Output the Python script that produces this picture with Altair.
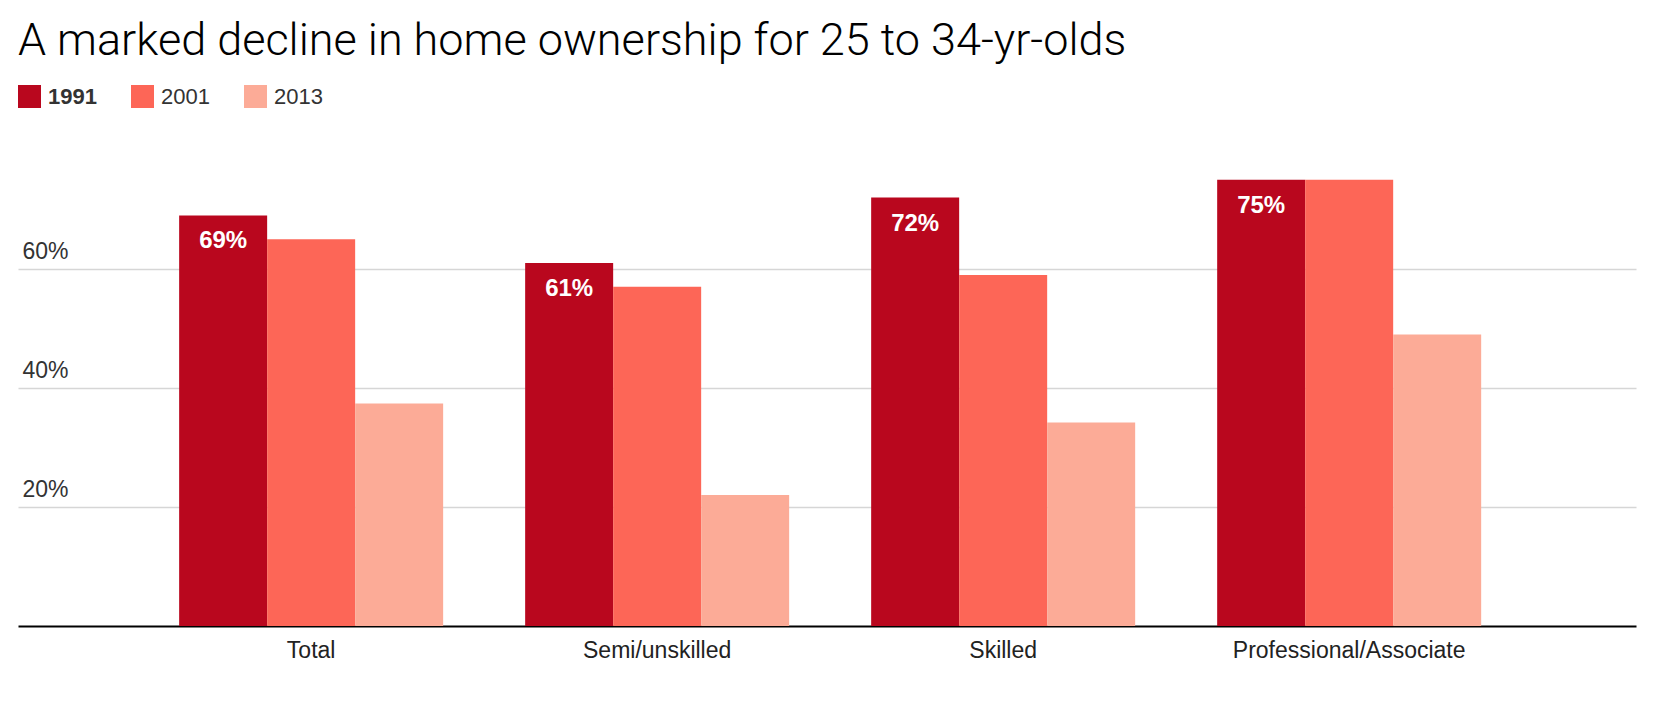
import altair as alt
import pandas as pd

categories = ["Total", "Semi/unskilled", "Skilled", "Professional/Associate"]
years = ["1991", "2001", "2013"]
v1991 = [69, 61, 72, 75]
v2001 = [65, 57, 59, 75]
v2013 = [37.4, 22, 34.2, 49]
colors = ["#b9071e", "#fd6657", "#fcab97"]

rows = []
for yr, vals in zip(years, [v1991, v2001, v2013]):
    for c, v in zip(categories, vals):
        rows.append({"cat": c, "year": yr, "value": v,
                     "label": f"{round(v)}%" if yr == "1991" else ""})
df = pd.DataFrame(rows)

FONT = "Liberation Sans"

x = alt.X("cat:N", sort=categories, title=None,
          scale=alt.Scale(paddingInner=0.237, paddingOuter=0.4566, align=0.51),
          axis=alt.Axis(labelFont=FONT, labelFontSize=23, labelColor="#222",
                        labelAngle=0, ticks=False, tickSize=0, labelPadding=31,
                        labelBaseline="alphabetic", labelLimit=1000,
                        domainColor="#000", domainWidth=2, grid=False))
xo = alt.XOffset("year:N", sort=years, scale=alt.Scale(paddingInner=0, paddingOuter=0))
y = alt.Y("value:Q", title=None,
          scale=alt.Scale(domain=[0, 80], nice=False),
          axis=alt.Axis(values=[20, 40, 60], format=".0f", labelExpr="datum.label + '%'",
                        labelFont=FONT, labelFontSize=23, labelColor="#333",
                        labelAlign="left", labelPadding=-4, labelBaseline="alphabetic",
                        labelOffset=-11, ticks=False, tickSize=0, domain=False,
                        grid=True, gridColor="#d6d6d6", gridWidth=1.4))

color = alt.Color("year:N", sort=years,
                  scale=alt.Scale(domain=years, range=colors),
                  legend=alt.Legend(orient="none", legendX=0, legendY=-65,
                                    direction="horizontal", title=None,
                                    symbolType="square", symbolSize=529,
                                    symbolStrokeWidth=0, symbolOpacity=1,
                                    labelFont=FONT, labelFontSize=22,
                                    labelColor="#333", labelOffset=7,
                                    columnPadding=34,
                                    labelFontWeight={"expr": "datum.label == '1991' ? 'bold' : 'normal'"}))

bars = alt.Chart(df).mark_bar(opacity=1).encode(x=x, xOffset=xo, y=y, color=color)

text = alt.Chart(df).mark_text(font=FONT, fontSize=24, fontWeight="bold",
                               color="white", baseline="alphabetic", dy=33).encode(
    x=alt.X("cat:N", sort=categories),
    xOffset=alt.XOffset("year:N", sort=years),
    y="value:Q",
    text="label:N")

chart = alt.layer(bars, text).properties(
    width=1618, height=476,
    title=alt.TitleParams("A marked decline in home ownership for 25 to 34-yr-olds",
                          anchor="start", frame="group", font="Roboto",
                          fontWeight=300, fontSize=45, color="#000", offset=21),
    autosize=alt.AutoSizeParams(type="none"),
    padding={"left": 10, "top": 142, "right": 8, "bottom": 50},
    background="white",
).configure_view(stroke=None, strokeWidth=0)

chart.save("out.html", embed_options={"renderer": "svg", "actions": False})
